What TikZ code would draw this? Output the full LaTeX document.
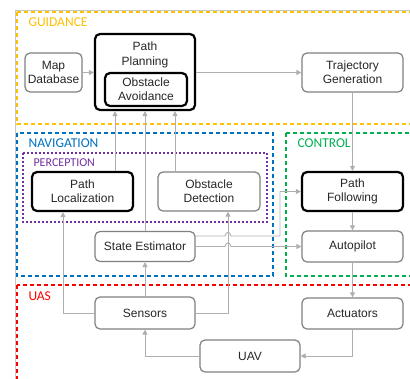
\documentclass[tikz,border=0pt]{standalone}
\usepackage{fontspec}
\setmainfont{Liberation Sans}
\newfontfamily\titolofont{Carlito}
\usetikzlibrary{arrows.meta}

\definecolor{guidacol}{HTML}{FFC000}
\definecolor{navcol}{HTML}{0070C0}
\definecolor{percol}{HTML}{7030A0}
\definecolor{contcol}{HTML}{00B050}
\definecolor{uascol}{HTML}{FF0000}
\definecolor{bordogrigio}{HTML}{808080}
\definecolor{lineagrigia}{HTML}{AFAFAF}

\begin{document}
\begin{tikzpicture}[x=1pt,y=-1pt,
    grigio/.style={draw=bordogrigio, line width=1.2pt, rounded corners=5pt, align=center,
      inner sep=0pt, text=black!85, font=\fontsize{12}{14}\selectfont},
    nero/.style={grigio, draw=black, line width=2.2pt},
    testo/.style={align=center, text=black!85, font=\fontsize{12}{15}\selectfont},
    freccia/.style={draw=lineagrigia, line width=0.9pt, -{Triangle[length=5pt,width=5pt]}},
    area/.style={line width=2pt, dash pattern=on 4pt off 3pt},
    titolo/.style={anchor=west, font=\titolofont\fontsize{13.5}{15}\selectfont}]

        \useasboundingbox (0,0) rectangle (410,378);

        % Cornice e aree tratteggiate
        \draw[gray!45, line width=0.6pt] (15,10) rectangle (430,400);
        \draw[guidacol, area] (17,12) rectangle (425,124);
        \draw[navcol, area, line width=2.4pt] (17,133) rectangle (273,276);
        \draw[percol, line width=1.6pt, dash pattern=on 2pt off 2pt] (23,153) rectangle (267,222);
        \draw[contcol, area, line width=2.4pt] (286,133) rectangle (425,276);
        \draw[uascol, area, line width=2.4pt] (17,285) rectangle (425,400);

        \node[titolo, text=guidacol] (guida) at (25,22) {GUIDANCE};
        \node[titolo, text=navcol] (navig) at (25,143) {NAVIGATION};
        \node[titolo, text=percol, font=\titolofont\fontsize{12}{14}\selectfont] (percez) at (30,163) {PERCEPTION};
        \node[titolo, text=contcol] (contr) at (294,143) {CONTROL};
        \node[titolo, text=uascol] (uas) at (25,296) {UAS};

        % Blocchi
        \node[grigio, minimum width=57pt, minimum height=39pt] (mappa) at (53.5,72.5) {Map\\Database};
        \node[nero, minimum width=100pt, minimum height=76pt] (pianif) at (145,72) {};
        \node[testo] (pianiftesto) at (145,54.5) {Path\\Planning};
        \node[nero, minimum width=82pt, minimum height=33pt] (evita) at (146,89.5) {Obstacle\\Avoidance};
        \node[grigio, minimum width=101pt, minimum height=39pt] (traiett) at (352.5,72.5) {Trajectory\\Generation};

        \node[nero, minimum width=101pt, minimum height=39pt] (locale) at (82.5,191.5) {Path\\Localization};
        \node[grigio, minimum width=102pt, minimum height=39pt] (rileva) at (209,191.5) {Obstacle\\Detection};
        \node[grigio, minimum width=100pt, minimum height=30pt] (stato) at (145,246.5) {State Estimator};

        \node[nero, minimum width=101pt, minimum height=39pt] (segui) at (352.5,191.5) {Path\\Following};
        \node[grigio, minimum width=101pt, minimum height=31pt] (autop) at (352.5,246.5) {Autopilot};

        \node[grigio, minimum width=100pt, minimum height=32pt] (sensori) at (145,313) {Sensors};
        \node[grigio, minimum width=101pt, minimum height=31pt] (attuat) at (352.5,313.5) {Actuators};
        \node[grigio, minimum width=100pt, minimum height=32pt] (uav) at (250,356) {UAV};

        % Collegamenti
        \draw[freccia] (mappa.east) -- (mappa.east -| pianif.west);
        \draw[freccia] (pianif.east |- traiett.west) -- (traiett.west);
        \draw[freccia] (traiett) -- (segui);
        \draw[freccia] (segui) -- (autop);
        \draw[freccia] (autop) -- (attuat);
        \draw[freccia] (attuat.south) |- (uav.east);
        \draw[freccia] (uav.west) -| (sensori.south);
        \draw[freccia] (sensori) -- (stato);
        \draw[freccia] (sensori.west) -| ([xshift=-19.5pt]locale.south);
        \draw[freccia] (sensori.east) -| ([xshift=19pt]rileva.south);
        \draw[freccia] ([xshift=-30pt]pianif.south |- locale.north) -- ([xshift=-30pt]pianif.south);
        \draw[freccia] (stato) -- (pianif.south);
        \draw[freccia] ([xshift=30pt]pianif.south |- rileva.north) -- ([xshift=30pt]pianif.south);

        % Linee che saltano la verticale dei sensori
        \draw[freccia] ([yshift=10.5pt]stato.east) -- (225,236) .. controls (226,231) and (230,231) .. (231,236)
            -- (280,236) |- (segui.west);
        \draw[freccia] (stato.east) -- (225,246.5) .. controls (226,241.5) and (230,241.5) .. (231,246.5)
            -- (autop.west);

    \end{tikzpicture}
\end{document}
